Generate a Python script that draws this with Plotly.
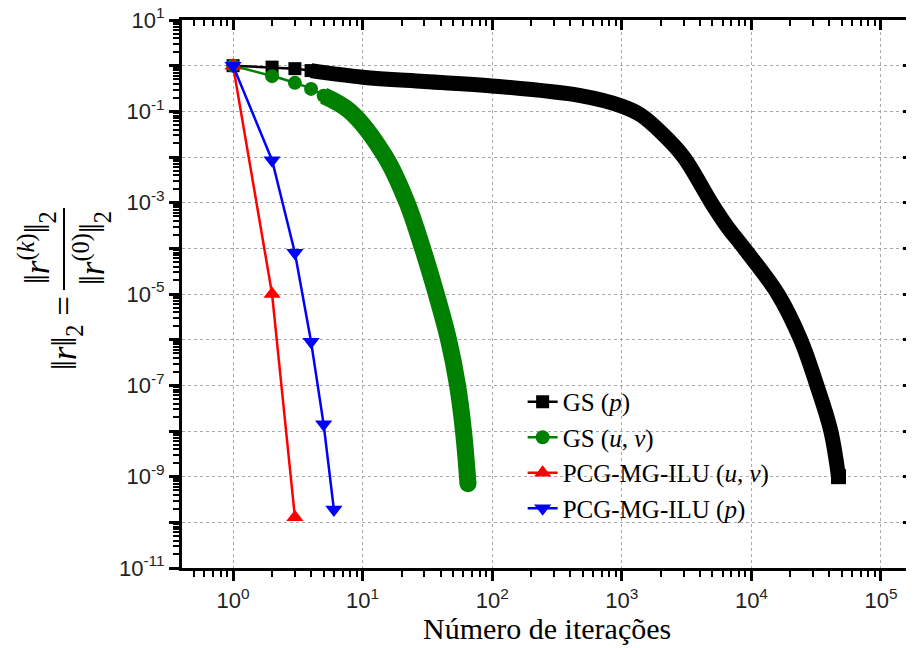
import plotly.graph_objects as go

# ---------------- data ----------------
gs_p_iter = [1, 2, 3, 4, 10, 30, 100, 480, 1000, 1400, 2000, 3000,
             4900, 6500, 8800, 16000, 24000, 32000, 41000, 47000]
gs_p_res = [1.0, 0.93, 0.86, 0.78, 0.56, 0.45, 0.36, 0.22, 0.13, 0.083, 0.035,
            0.01, 1e-3, 3e-4, 1e-4, 1e-5, 1e-6, 1e-7, 1e-8, 1e-9]

gs_uv_iter = [1, 2, 3, 4, 5, 8, 15, 22, 29, 37, 46, 54, 60, 65]
gs_uv_res = [1.0, 0.59, 0.42, 0.31, 0.22, 0.1, 0.01, 1e-3, 1e-4,
             1e-5, 1e-6, 1e-7, 1e-8, 7e-10]

pcg_uv_iter = [1, 2, 3]
pcg_uv_res = [1.0, 1e-5, 1.3e-10]

pcg_p_iter = [1, 2, 3, 4, 5, 6]
pcg_p_res = [1.0, 8.5e-3, 8e-5, 9e-7, 1.4e-8, 1.9e-10]

series_names = ["GS (<i>p</i>)", "GS (<i>u</i>, <i>v</i>)",
                "PCG-MG-ILU (<i>u</i>, <i>v</i>)", "PCG-MG-ILU (<i>p</i>)"]

x_exponents = [0, 1, 2, 3, 4, 5]
y_exponents = list(range(-11, 2))

# ---------------- figure ----------------
fig = go.Figure()

BLACK_BAND = 15
GREEN_BAND = 17
n_sep_black = 4   # individually resolved symbols at the start of each series
n_sep_green = 5


def band_trace(xs, ys, color, width, symbol):
    # symbols so dense that they merge into a thick band; last symbol closes it
    sizes = [0] * (len(xs) - 1) + [width]
    return go.Scatter(x=xs, y=ys, mode="lines+markers",
                      line=dict(color=color, width=width, shape="spline"),
                      marker=dict(symbol=symbol, size=sizes, color=color,
                                  opacity=1, line=dict(width=0)),
                      showlegend=False, hoverinfo="skip")


fig.add_trace(band_trace(gs_p_iter[n_sep_black - 1:], gs_p_res[n_sep_black - 1:],
                         "black", BLACK_BAND, "square"))
fig.add_trace(go.Scatter(x=gs_p_iter[:n_sep_black], y=gs_p_res[:n_sep_black],
                         mode="lines+markers", name=series_names[0],
                         line=dict(color="black", width=2.5),
                         marker=dict(symbol="square", size=13, color="black")))

fig.add_trace(band_trace(gs_uv_iter[n_sep_green - 1:], gs_uv_res[n_sep_green - 1:],
                         "#008000", GREEN_BAND, "circle"))
fig.add_trace(go.Scatter(x=gs_uv_iter[:n_sep_green], y=gs_uv_res[:n_sep_green],
                         mode="lines+markers", name=series_names[1],
                         line=dict(color="#008000", width=2.5, shape="spline"),
                         marker=dict(symbol="circle", size=14, color="#008000")))

fig.add_trace(go.Scatter(x=pcg_uv_iter, y=pcg_uv_res, mode="lines+markers",
                         name=series_names[2],
                         line=dict(color="#FF0000", width=2.5),
                         marker=dict(symbol="triangle-up", size=15, color="#FF0000")))

fig.add_trace(go.Scatter(x=pcg_p_iter, y=pcg_p_res, mode="lines+markers",
                         name=series_names[3],
                         line=dict(color="#0000FF", width=2.5),
                         marker=dict(symbol="triangle-down", size=15, color="#0000FF")))

# invisible trace to hold the mirrored (top/right) axes
fig.add_trace(go.Scatter(x=[None], y=[None], xaxis="x2", yaxis="y2",
                         showlegend=False, hoverinfo="skip"))

xr = [-0.394, 5.247]
yr = [-11, 1]
x_major = [10 ** e for e in x_exponents]
x_text = [f"10<sup>{e}</sup>" for e in x_exponents]
x_minor = [m * 10 ** e for e in range(-1, 6) for m in range(2, 10)
           if 0.4 <= m * 10 ** e <= 1.7e5]
y_major = [10.0 ** e for e in y_exponents]
y_text = [f"10<sup>{e}</sup>" if e % 2 else "" for e in y_exponents]
y_minor = [m * 10.0 ** e for e in range(-11, 1) for m in range(2, 10)]

tickfont = dict(family="Liberation Sans, Arial, sans-serif", size=22, color="#222")
grid = dict(showgrid=True, gridcolor="#a8a8a8", griddash="dot", gridwidth=1)
common = dict(type="log", tickmode="array", tickcolor="black", showline=True,
              linewidth=3, linecolor="black", zeroline=False, automargin=False,
              tickwidth=3, ticklen=10)

fig.update_layout(
    template="none",
    width=906, height=640, autosize=False,
    margin=dict(l=174, r=1, t=12, b=80, autoexpand=False),
    paper_bgcolor="white", plot_bgcolor="white",
    xaxis=dict(**common, range=xr, tickvals=x_major, ticktext=x_text,
               ticks="outside", tickfont=tickfont, ticklabelstandoff=1,
               ticklabeloverflow="allow", **grid,
               minor=dict(tickmode="array", tickvals=x_minor, ticks="outside",
                          ticklen=6, tickwidth=2, tickcolor="black", showgrid=False)),
    yaxis=dict(**common, range=yr, tickvals=y_major, ticktext=y_text,
               ticks="outside", tickfont=tickfont, ticklabeloverflow="allow", **grid,
               minor=dict(tickmode="array", tickvals=y_minor, ticks="outside",
                          ticklen=6, tickwidth=2, tickcolor="black", showgrid=False)),
    xaxis2=dict(**common, range=xr, overlaying="x", side="top", anchor="y",
                tickvals=x_major, showticklabels=False, ticks="inside",
                showgrid=False,
                minor=dict(tickmode="array", tickvals=x_minor, ticks="inside",
                           ticklen=6, tickwidth=2, tickcolor="black", showgrid=False)),
    yaxis2=dict(**common, range=yr, overlaying="y", side="right", anchor="x",
                tickvals=y_major, showticklabels=False, ticks="inside",
                showgrid=False,
                minor=dict(tickmode="array", tickvals=y_minor, ticks="inside",
                           ticklen=6, tickwidth=2, tickcolor="black", showgrid=False)),
    legend=dict(x=0.466, y=0.345, xanchor="left", yanchor="top",
                bgcolor="rgba(0,0,0,0)", borderwidth=0, tracegroupgap=0,
                font=dict(family="Liberation Serif, Times New Roman, serif",
                          size=25, color="black")),
    showlegend=True,
)

serif = "Liberation Serif, Times New Roman, serif"
W = 731.0
H = 548.0


def px_to_paper(px, py):
    # screen pixel (page has an 8px body margin) -> paper coordinates
    return (px - 182) / W, (568 - py) / H


# x axis title
tx, ty = px_to_paper(547, 628)
fig.add_annotation(text="Número de iterações", x=tx, y=ty, xref="paper", yref="paper",
                   showarrow=False, xanchor="center", yanchor="middle",
                   font=dict(family=serif, size=30, color="black"))

# y axis title as a rotated fraction
ysize = 35
nx, ny = px_to_paper(36, 248)
fig.add_annotation(text="‖<i>r</i><sup>(<i>k</i>)</sup>‖<sub>2</sub>", x=nx, y=ny,
                   xref="paper", yref="paper", showarrow=False, textangle=-90,
                   xanchor="center", yanchor="middle",
                   font=dict(family=serif, size=ysize, color="black"))
dx, dy = px_to_paper(91, 248)
fig.add_annotation(text="‖<i>r</i><sup>(0)</sup>‖<sub>2</sub>", x=dx, y=dy,
                   xref="paper", yref="paper", showarrow=False, textangle=-90,
                   xanchor="center", yanchor="middle",
                   font=dict(family=serif, size=ysize, color="black"))
lx, ly = px_to_paper(66, 333)
fig.add_annotation(text="‖<i>r</i>‖<sub>2</sub> =", x=lx, y=ly,
                   xref="paper", yref="paper", showarrow=False, textangle=-90,
                   xanchor="center", yanchor="middle",
                   font=dict(family=serif, size=ysize, color="black"))
bx0, by0 = px_to_paper(64, 208)
bx1, by1 = px_to_paper(64, 290)
fig.add_shape(type="line", xref="paper", yref="paper", x0=bx0, x1=bx1, y0=by0, y1=by1,
              line=dict(color="black", width=2))

fig.write_html("out.html")
